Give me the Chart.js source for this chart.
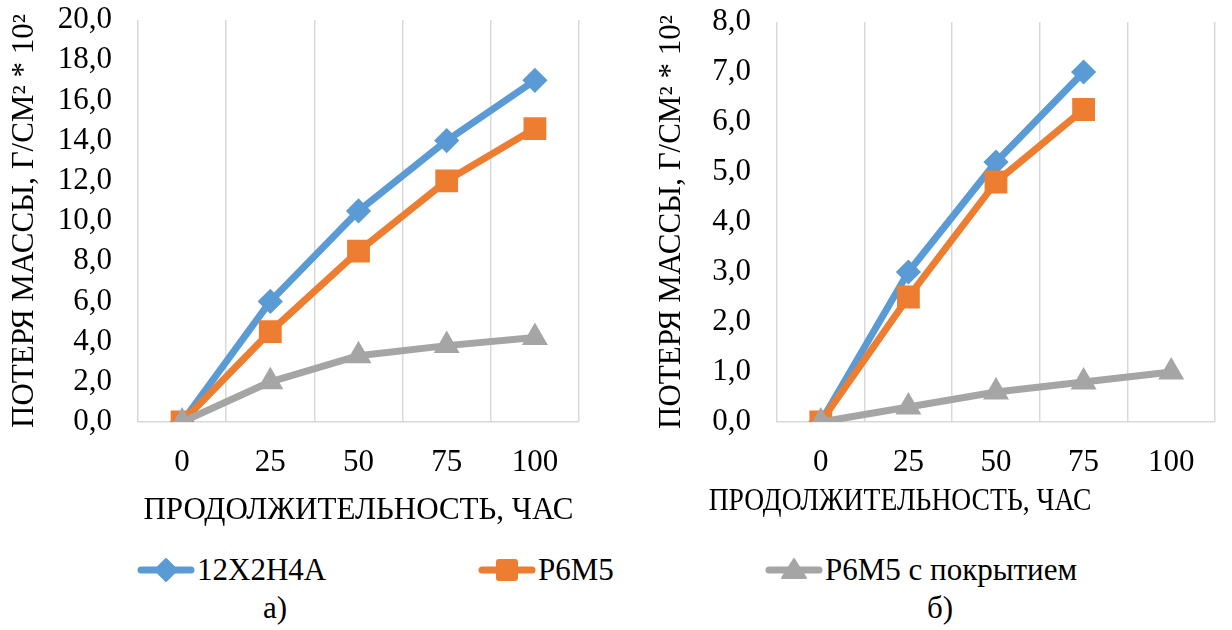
<!DOCTYPE html>
<html>
<head>
<meta charset="utf-8">
<script src="https://cdn.jsdelivr.net/npm/chart.js@4.4.1/dist/chart.umd.min.js"></script>
<style>
  body { margin: 0; background: #fff; width: 1232px; height: 630px; position: relative; overflow: hidden;
         font-family: "Liberation Serif", "Times New Roman", serif; color: #000; }
  canvas { position: absolute; top: 0; }
  #chartA { left: 0; }
  #chartB { left: 620px; }
  .xtitle { position: absolute; font-size: 31px; line-height: 36px; white-space: nowrap; transform-origin: center; }
  .legend-item { position: absolute; top: 552px; height: 36px; display: flex; align-items: center;
                 font-size: 31px; white-space: nowrap; }
  .legend-item svg { margin-right: 2px; }
  .caption { position: absolute; top: 590px; width: 100px; text-align: center; font-size: 31px; line-height: 36px; }
</style>
</head>
<body>
<canvas id="chartA" width="600" height="530"></canvas>
<canvas id="chartB" width="612" height="530"></canvas>
<div class="xtitle" id="xtitleB"></div>
<div id="legend"></div>
<div class="caption" style="left:225px">а)</div>
<div class="caption" style="left:890px">б)</div>
<script>
const hours = ['0', '25', '50', '75', '100'];
const seriesNames = ['12Х2Н4А', 'Р6М5', 'Р6М5 с покрытием'];
const seriesColors = ['#5B9BD5', '#ED7D31', '#A5A5A5'];
const seriesMarkers = ['rectRot', 'rect', 'triangle'];

// а) потеря массы, г/см2 * 10^2
const lossA12x = [0, 6.0, 10.5, 14.0, 17.0];
const lossAP6m5 = [0, 4.5, 8.5, 12.0, 14.6];
const lossACoated = [0, 2.0, 3.3, 3.8, 4.2];

// б)
const lossB12x = [0, 3.0, 5.2, 7.0, null];
const lossBP6m5 = [0, 2.5, 4.8, 6.25, null];
const lossBCoated = [0, 0.3, 0.6, 0.8, 1.0];

const yTitle = 'ПОТЕРЯ МАССЫ, Г/СМ² * 10²';
const xTitle = 'ПРОДОЛЖИТЕЛЬНОСТЬ, ЧАС';

const FONT = { family: '"Liberation Serif", "Times New Roman", serif', size: 31 };
const GRID = '#d9d9d9';
const markerSize = [10.5, 14, 12];

function dataset(i, values) {
  return {
    label: seriesNames[i],
    data: values,
    borderColor: seriesColors[i],
    backgroundColor: seriesColors[i],
    borderWidth: 7,
    borderJoinStyle: 'round',
    pointStyle: seriesMarkers[i],
    pointRadius: markerSize[i],
    pointBorderWidth: 3,
    pointBorderColor: seriesColors[i],
    pointBackgroundColor: seriesColors[i],
    order: 2 - i,
    tension: 0,
  };
}

function buildChart(canvas, series, yMax, yStep, box) {
  return new Chart(canvas.getContext('2d'), {
    type: 'line',
    data: {
      labels: hours,
      datasets: series.map((values, i) => dataset(i, values)),
    },
    options: {
      responsive: false,
      animation: false,
      layout: { padding: { top: box.top, right: box.right, left: 0, bottom: 0 } },
      plugins: { legend: { display: false }, tooltip: { enabled: false } },
      scales: {
        x: {
          offset: true,
          grid: { offset: true, color: GRID, lineWidth: 1.5, drawTicks: false },
          border: { display: true, color: GRID, width: 1.5 },
          ticks: { color: '#000', font: FONT, padding: 22, maxRotation: 0, autoSkip: false },
          title: { display: box.xTitle, text: xTitle, color: '#000', font: FONT, padding: { top: 0, bottom: 1 } },
          afterFit: (scale) => { scale.height = 530 - 422; },
        },
        y: {
          min: 0,
          max: yMax,
          // tick marks are hidden, their length only sets the gap to the labels
          grid: { display: false, drawTicks: true, tickLength: 26 },
          border: { display: false },
          ticks: {
            stepSize: yStep,
            autoSkip: false,
            color: '#000',
            font: FONT,
            padding: 0,
            callback: (v) => v.toFixed(1).replace('.', ','),
          },
          title: { display: true, text: yTitle, color: '#000', font: FONT, padding: { top: box.yTitlePad, bottom: 0 } },
          afterFit: (scale) => { scale.width = box.yWidth; },
        },
      },
    },
  });
}

buildChart(document.getElementById('chartA'), [lossA12x, lossAP6m5, lossACoated], 20, 2,
  { top: 20, right: 21, yWidth: 138, yTitlePad: 6, xTitle: true });
buildChart(document.getElementById('chartB'), [lossB12x, lossBP6m5, lossBCoated], 8, 1,
  { top: 22, right: 9, yWidth: 157, yTitlePad: 33, xTitle: false });

// x title of chart b) sits left of the plot centre and is a bit narrower
const xt = document.getElementById('xtitleB');
xt.textContent = xTitle;
const w = xt.getBoundingClientRect().width;
xt.style.left = (900 - w / 2) + 'px';
xt.style.top = '482px';
xt.style.transform = 'scaleX(0.89)';

// legend
function markerSvg(i) {
  const c = seriesColors[i];
  let shape;
  if (seriesMarkers[i] === 'rectRot') shape = `<polygon points="29,4 40,15 29,26 18,15" fill="${c}" stroke="${c}" stroke-width="2" stroke-linejoin="round"/>`;
  else if (seriesMarkers[i] === 'rect') shape = `<rect x="19" y="5" width="20" height="20" rx="2" fill="${c}" stroke="${c}" stroke-width="2"/>`;
  else shape = `<polygon points="29,4 41,23 17,23" fill="${c}" stroke="${c}" stroke-width="2" stroke-linejoin="round"/>`;
  return `<svg width="58" height="30" viewBox="0 0 58 30"><line x1="4" y1="15" x2="54" y2="15" stroke="${c}" stroke-width="7" stroke-linecap="round"/>${shape}</svg>`;
}
const legendLeft = [137, 478, 765];
const legend = document.getElementById('legend');
seriesNames.forEach((name, i) => {
  const item = document.createElement('div');
  item.className = 'legend-item';
  item.style.left = legendLeft[i] + 'px';
  item.innerHTML = markerSvg(i) + '<span></span>';
  item.querySelector('span').textContent = name;
  legend.appendChild(item);
});
</script>
</body>
</html>
